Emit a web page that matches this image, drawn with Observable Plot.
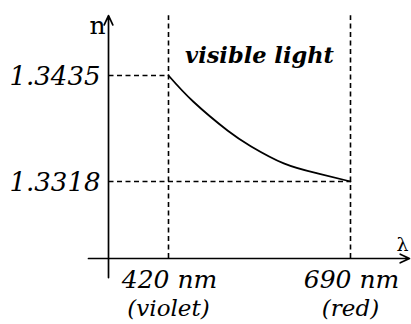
<!DOCTYPE html>
<html>
<head>
<meta charset="utf-8">
<script src="https://cdn.jsdelivr.net/npm/d3@7"></script>
<script src="https://cdn.jsdelivr.net/npm/@observablehq/plot@0.6"></script>
<style>
  html, body { margin: 0; padding: 0; background: #fff; }
  #chart svg { display: block; }
</style>
</head>
<body>
<div id="chart"></div>
<script>
// Refractive index of water across the visible spectrum
const wavelength = [420, 457, 508, 542, 591, 641, 690];
const refractiveIndex = [1.3435, 1.3406, 1.3374, 1.3357, 1.3338, 1.3327, 1.3318];

// Marked points
const markedWavelengths = [420, 690];
const markedLabels = ["420 nm", "690 nm"];
const colorLabels = ["(violet)", "(red)"];
const markedIndices = [1.3435, 1.3318];
const indexLabels = ["1.3435", "1.3318"];

// Axis frame (in data units)
const lambdaOrigin = 331;
const lambdaEnd = 777.5;
const lambdaStart = 301.3;
const nOrigin = 1.3233;
const nTop = 1.3501;
const nBottom = 1.3212;

const curve = wavelength.map((l, i) => ({l, n: refractiveIndex[i]}));
const font = "DejaVu Serif";

const chart = Plot.plot({
  width: 411,
  height: 324,
  margin: 0,
  x: {domain: [420, 690], range: [168, 350], axis: null},
  y: {domain: [1.3318, 1.3435], range: [181, 75], axis: null},
  style: {background: "#fff", fontFamily: font},
  marks: [
    Plot.ruleX(markedWavelengths, {x: d => d, y1: nOrigin, y2: nTop, stroke: "#000", strokeWidth: 1.6, strokeDasharray: "5,3.5"}),
    Plot.link(markedIndices, {x1: lambdaOrigin, x2: (d, i) => markedWavelengths[i], y1: d => d, y2: d => d, stroke: "#000", strokeWidth: 1.6, strokeDasharray: "5,3.5"}),
    Plot.arrow([0], {x1: lambdaOrigin, x2: lambdaOrigin, y1: nBottom, y2: nTop, stroke: "#000", strokeWidth: 1.7, headLength: 9, headAngle: 50}),
    Plot.arrow([0], {x1: lambdaStart, x2: lambdaEnd, y1: nOrigin, y2: nOrigin, stroke: "#000", strokeWidth: 1.7, headLength: 9, headAngle: 50}),
    Plot.line(curve, {x: "l", y: "n", curve: "natural", stroke: "#000", strokeWidth: 1.8}),
    Plot.text(indexLabels, {x: lambdaOrigin, y: (d, i) => markedIndices[i], text: d => d, textAnchor: "end", lineAnchor: "middle", dx: -8, dy: 1, fontSize: 26, fontStyle: "italic", fill: "#000"}),
    Plot.text(markedLabels, {x: (d, i) => markedWavelengths[i], y: nOrigin, text: d => d, lineAnchor: "bottom", dy: 29, dx: 1, fontSize: 25, fontStyle: "italic", fill: "#000"}),
    Plot.text(colorLabels, {x: (d, i) => markedWavelengths[i], y: nOrigin, text: d => d, lineAnchor: "bottom", dy: 57, fontSize: 23, fontStyle: "italic", fill: "#000"}),
    Plot.text(["visible light"], {x: (420 + 690) / 2, y: 1.3435, text: d => d, lineAnchor: "bottom", dy: -13, fontSize: 22.5, fontStyle: "italic", fontWeight: "bold", fill: "#000"}),
    Plot.text(["n"], {x: lambdaOrigin, y: nTop, text: d => d, lineAnchor: "bottom", dx: -11, dy: 18, fontSize: 25, fill: "#000"}),
    Plot.text(["λ"], {x: lambdaEnd, y: nOrigin, text: d => d, lineAnchor: "bottom", dx: -7, dy: -8, fontSize: 19, fill: "#000"})
  ]
});
document.getElementById("chart").appendChild(chart);
</script>
</body>
</html>
